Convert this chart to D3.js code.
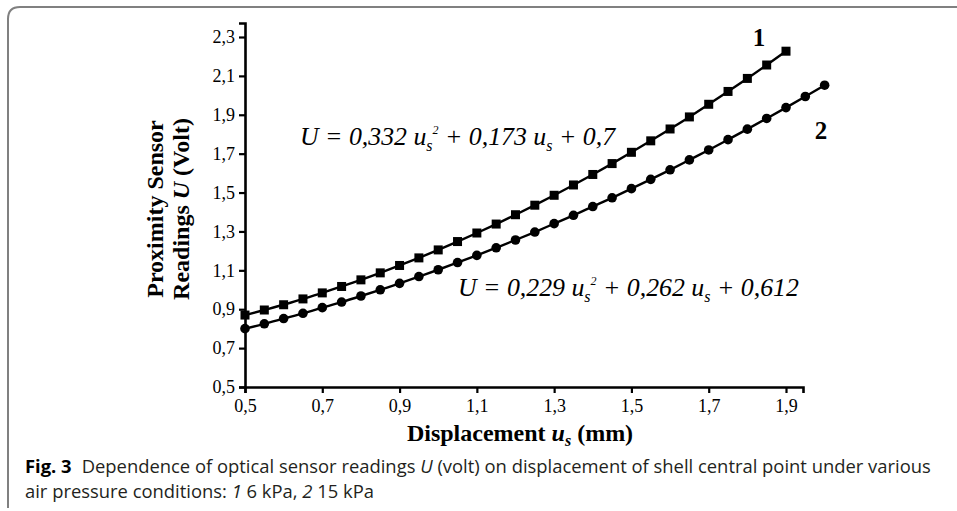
<!DOCTYPE html>
<html>
<head>
<meta charset="utf-8">
<script src="https://cdn.jsdelivr.net/npm/d3@7"></script>
<style>
  body { margin: 0; background: #fff; }
  svg { display: block; }
</style>
</head>
<body>
<svg id="chart" width="957" height="511"></svg>
<script>
// displacement u_s (mm), one marker every 0,05
const us1 = [0.5, 0.55, 0.6, 0.65, 0.7, 0.75, 0.8, 0.85, 0.9, 0.95, 1.0, 1.05, 1.1, 1.15, 1.2,
  1.25, 1.3, 1.35, 1.4, 1.45, 1.5, 1.55, 1.6, 1.65, 1.7, 1.75, 1.8, 1.85, 1.9];
const us2 = [0.5, 0.55, 0.6, 0.65, 0.7, 0.75, 0.8, 0.85, 0.9, 0.95, 1.0, 1.05, 1.1, 1.15, 1.2,
  1.25, 1.3, 1.35, 1.4, 1.45, 1.5, 1.55, 1.6, 1.65, 1.7, 1.75, 1.8, 1.85, 1.9, 1.95, 2.0];
// sensor readings U (V)
const volt1 = [0.87, 0.896, 0.923, 0.953, 0.984, 1.017, 1.051, 1.087, 1.125, 1.164, 1.205, 1.248,
  1.292, 1.338, 1.386, 1.435, 1.486, 1.539, 1.593, 1.649, 1.707, 1.766, 1.827, 1.889, 1.954,
  2.02, 2.087, 2.156, 2.227];
const volt2 = [0.8, 0.825, 0.852, 0.879, 0.908, 0.937, 0.968, 1.0, 1.033, 1.068, 1.103, 1.14,
  1.177, 1.216, 1.256, 1.297, 1.34, 1.383, 1.428, 1.473, 1.52, 1.568, 1.617, 1.668, 1.719,
  1.772, 1.826, 1.881, 1.937, 1.994, 2.052];
const xTicks = [0.5, 0.7, 0.9, 1.1, 1.3, 1.5, 1.7, 1.9];
const yTicks = [0.5, 0.7, 0.9, 1.1, 1.3, 1.5, 1.7, 1.9, 2.1, 2.3];

const svg = d3.select('#chart');
const serif = '"Liberation Serif", "Times New Roman", serif';
const sans = '"Open Sans", "Noto Sans", sans-serif';
const comma = d => d3.format('.1f')(d).replace('.', ',');

// figure frame (top and left edge, rounded corner)
svg.append('path')
  .attr('d', 'M8,508 L8,19 Q8,7 20,7 L957,7')
  .attr('fill', 'none')
  .attr('stroke', '#808080')
  .attr('stroke-width', 2);

const x = d3.scaleLinear().domain([0.5, 1.944]).range([245, 803]);
const y = d3.scaleLinear().domain([0.5, 2.372]).range([387, 23]);

const xAxis = svg.append('g')
  .attr('transform', 'translate(0,387)')
  .call(d3.axisBottom(x).tickValues(xTicks).tickFormat(comma).tickSizeOuter(0).tickSize(6).tickPadding(6));
const yAxis = svg.append('g')
  .attr('transform', 'translate(245,0)')
  .call(d3.axisLeft(y).tickValues(yTicks).tickFormat(comma).tickSizeOuter(0).tickSize(6).tickPadding(4));

[xAxis, yAxis].forEach(a => {
  a.select('.domain').attr('stroke', '#000').attr('stroke-width', 2.6);
  a.selectAll('.tick line').attr('stroke', '#000').attr('stroke-width', 2.2);
  a.selectAll('.tick text')
    .attr('fill', '#000')
    .style('font-family', serif)
    .style('font-size', '18px');
});

const line = d3.line().x(d => x(d[0])).y(d => y(d[1])).curve(d3.curveMonotoneX);
const pts1 = us1.map((u, i) => [u, volt1[i]]);
const pts2 = us2.map((u, i) => [u, volt2[i]]);

[pts1, pts2].forEach(p => {
  svg.append('path')
    .attr('d', line(p))
    .attr('fill', 'none')
    .attr('stroke', '#000')
    .attr('stroke-width', 2.4);
});

svg.append('g').selectAll('rect')
  .data(pts1)
  .join('rect')
  .attr('x', d => x(d[0]) - 4.5)
  .attr('y', d => y(d[1]) - 4.5)
  .attr('width', 9)
  .attr('height', 9)
  .attr('fill', '#000');

svg.append('g').selectAll('circle')
  .data(pts2)
  .join('circle')
  .attr('cx', d => x(d[0]))
  .attr('cy', d => y(d[1]))
  .attr('r', 4.8)
  .attr('fill', '#000');

// curve numbers
svg.append('text').attr('x', 759).attr('y', 46)
  .style('font-family', serif).style('font-size', '25px').style('font-weight', 'bold')
  .attr('text-anchor', 'middle').text('1');
svg.append('text').attr('x', 821).attr('y', 139)
  .style('font-family', serif).style('font-size', '25px').style('font-weight', 'bold')
  .attr('text-anchor', 'middle').text('2');

// regression equations
function equation(x0, y0, a, b, c) {
  const t = svg.append('text').attr('x', x0).attr('y', y0)
    .style('font-family', serif).style('font-size', '25.8px').style('font-style', 'italic');
  t.append('tspan').text('U = ' + a + ' u');
  t.append('tspan').attr('dy', 6).style('font-size', '16px').text('s');
  t.append('tspan').attr('dy', -17).style('font-size', '12px').text('2');
  t.append('tspan').attr('dy', 11).text(' + ' + b + ' u');
  t.append('tspan').attr('dy', 6).style('font-size', '16px').text('s');
  t.append('tspan').attr('dy', -6).text(' + ' + c);
}
equation(300, 145, '0,332', '0,173', '0,7');
equation(458, 296, '0,229', '0,262', '0,612');

// axis titles
const yl = svg.append('g').attr('transform', 'translate(163,209) rotate(-90)');
yl.append('text').attr('text-anchor', 'middle')
  .style('font-family', serif).style('font-size', '24px').style('font-weight', 'bold')
  .text('Proximity Sensor');
const yl2 = yl.append('text').attr('text-anchor', 'middle').attr('y', 26)
  .style('font-family', serif).style('font-size', '24px').style('font-weight', 'bold');
yl2.append('tspan').text('Readings ');
yl2.append('tspan').style('font-style', 'italic').text('U');
yl2.append('tspan').text(' (Volt)');

const xl = svg.append('text').attr('x', 520).attr('y', 441).attr('text-anchor', 'middle')
  .style('font-family', serif).style('font-size', '24px').style('font-weight', 'bold');
xl.append('tspan').text('Displacement ');
xl.append('tspan').style('font-style', 'italic').text('u');
xl.append('tspan').attr('dy', 5).style('font-style', 'italic').style('font-size', '16px').text('s');
xl.append('tspan').attr('dy', -5).text(' (mm)');

// caption
const cap1 = svg.append('text').attr('x', 25).attr('y', 473)
  .style('font-family', sans).style('font-size', '18.4px').attr('fill', '#231f20');
cap1.append('tspan').style('font-weight', 'bold').attr('fill', '#000').text('Fig. 3');
cap1.append('tspan').attr('dx', 10).text('Dependence of optical sensor readings ');
cap1.append('tspan').style('font-style', 'italic').text('U');
cap1.append('tspan').text(' (volt) on displacement of shell central point under various');

const cap2 = svg.append('text').attr('x', 25).attr('y', 498)
  .style('font-family', sans).style('font-size', '18.4px').attr('fill', '#231f20');
cap2.append('tspan').text('air pressure conditions: ');
cap2.append('tspan').style('font-style', 'italic').text('1');
cap2.append('tspan').text(' 6 kPa, ');
cap2.append('tspan').style('font-style', 'italic').text('2');
cap2.append('tspan').text(' 15 kPa');
</script>
</body>
</html>
